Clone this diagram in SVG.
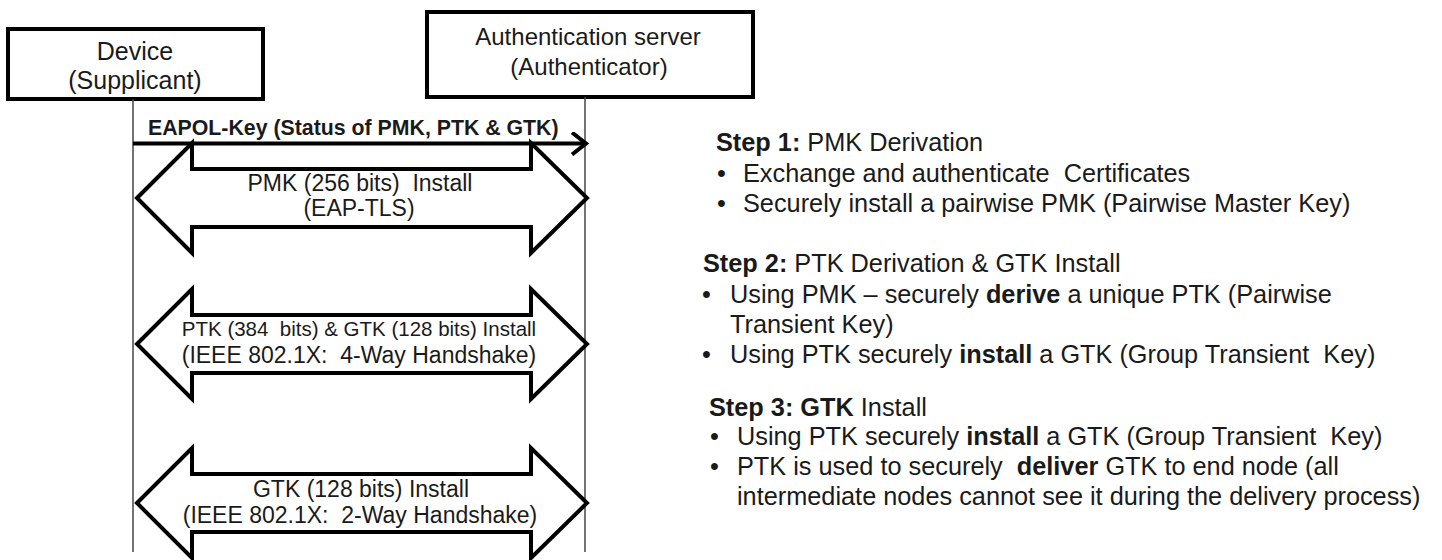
<svg xmlns="http://www.w3.org/2000/svg" width="1442" height="560" viewBox="0 0 1442 560">
  <style>
    .box { fill: #ffffff; stroke: #000000; stroke-width: 4; }
    .life { stroke: #444444; stroke-width: 1.5; fill: none; }
    .blk { fill: #ffffff; stroke: #000000; stroke-width: 4; stroke-linejoin: miter; }
    .t { font-family: "Liberation Sans", Arial, sans-serif; fill: #1a1a1a; }
    .c { text-anchor: middle; }
    .b { font-weight: bold; }
  </style>
  <defs>
    <marker id="open" markerWidth="20" markerHeight="24" refX="16" refY="12" orient="auto" markerUnits="userSpaceOnUse">
      <path d="M2,1 L16,12 L2,23" fill="none" stroke="#000" stroke-width="4"/>
    </marker>
    <path id="dbl" d="M0,0 L55,-55 L55,-29 L394,-29 L394,-55 L450,0 L394,55 L394,29 L55,29 L55,55 Z"/>
  </defs>

  <g id="device">
    <rect class="box" x="8" y="29" width="255" height="70"/>
    <text class="t c" x="135" y="60" font-size="25">Device</text>
    <text class="t c" x="135" y="89" font-size="25">(Supplicant)</text>
  </g>

  <g id="auth-server">
    <rect class="box" x="427" y="12" width="326" height="85"/>
    <text class="t c" x="588" y="45" font-size="24">Authentication server</text>
    <text class="t c" x="589" y="75" font-size="24">(Authenticator)</text>
  </g>

  <g id="connectors">
    <line class="life" x1="133" y1="99" x2="133" y2="552"/>
    <line class="life" x1="585" y1="97" x2="585" y2="552"/>

    <g id="eapol">
      <line x1="133" y1="143.5" x2="586" y2="143.5" stroke="#000" stroke-width="4" marker-end="url(#open)"/>
      <text class="t b" x="148" y="135" font-size="21.3" fill="#000">EAPOL-Key (Status of PMK, PTK &amp; GTK)</text>
    </g>

    <g id="pmk-install">
      <use href="#dbl" class="blk" transform="translate(137,198)"/>
      <text class="t c" x="360" y="191" font-size="23" xml:space="preserve">PMK (256 bits)  Install</text>
      <text class="t c" x="359" y="216" font-size="23">(EAP-TLS)</text>
    </g>

    <g id="ptk-gtk-install">
      <use href="#dbl" class="blk" transform="translate(137,344)"/>
      <text class="t c" x="359" y="336" font-size="20.5" xml:space="preserve">PTK (384  bits) &amp; GTK (128 bits) Install</text>
      <text class="t c" x="359" y="363" font-size="23" xml:space="preserve">(IEEE 802.1X:  4-Way Handshake)</text>
    </g>

    <g id="gtk-install">
      <use href="#dbl" class="blk" transform="translate(137,503)"/>
      <text class="t c" x="361" y="497" font-size="23">GTK (128 bits) Install</text>
      <text class="t c" x="360" y="523" font-size="23" xml:space="preserve">(IEEE 802.1X:  2-Way Handshake)</text>
    </g>
  </g>

  <g id="steps" font-size="25.3">
    <g id="step1">
      <text class="t" x="716" y="151"><tspan class="b">Step 1:</tspan> PMK Derivation</text>
      <text class="t" x="717" y="182">•</text>
      <text class="t" x="743" y="182" xml:space="preserve">Exchange and authenticate  Certificates</text>
      <text class="t" x="717" y="212">•</text>
      <text class="t" x="743" y="212">Securely install a pairwise PMK (Pairwise Master Key)</text>
    </g>
    <g id="step2">
      <text class="t" x="703" y="272"><tspan class="b">Step 2:</tspan> PTK Derivation &amp; GTK Install</text>
      <text class="t" x="702" y="303">•</text>
      <text class="t" x="730" y="303">Using PMK – securely <tspan class="b">derive</tspan> a unique PTK (Pairwise</text>
      <text class="t" x="730" y="333">Transient Key)</text>
      <text class="t" x="702" y="363">•</text>
      <text class="t" x="730" y="363" xml:space="preserve">Using PTK securely <tspan class="b">install</tspan> a GTK (Group Transient  Key)</text>
    </g>
    <g id="step3">
      <text class="t" x="709" y="416"><tspan class="b">Step 3: GTK</tspan> Install</text>
      <text class="t" x="710" y="445">•</text>
      <text class="t" x="737" y="445" xml:space="preserve">Using PTK securely <tspan class="b">install</tspan> a GTK (Group Transient  Key)</text>
      <text class="t" x="710" y="475">•</text>
      <text class="t" x="737" y="475" xml:space="preserve">PTK is used to securely  <tspan class="b">deliver</tspan> GTK to end node (all</text>
      <text class="t" x="737" y="505">intermediate nodes cannot see it during the delivery process)</text>
    </g>
  </g>
</svg>
